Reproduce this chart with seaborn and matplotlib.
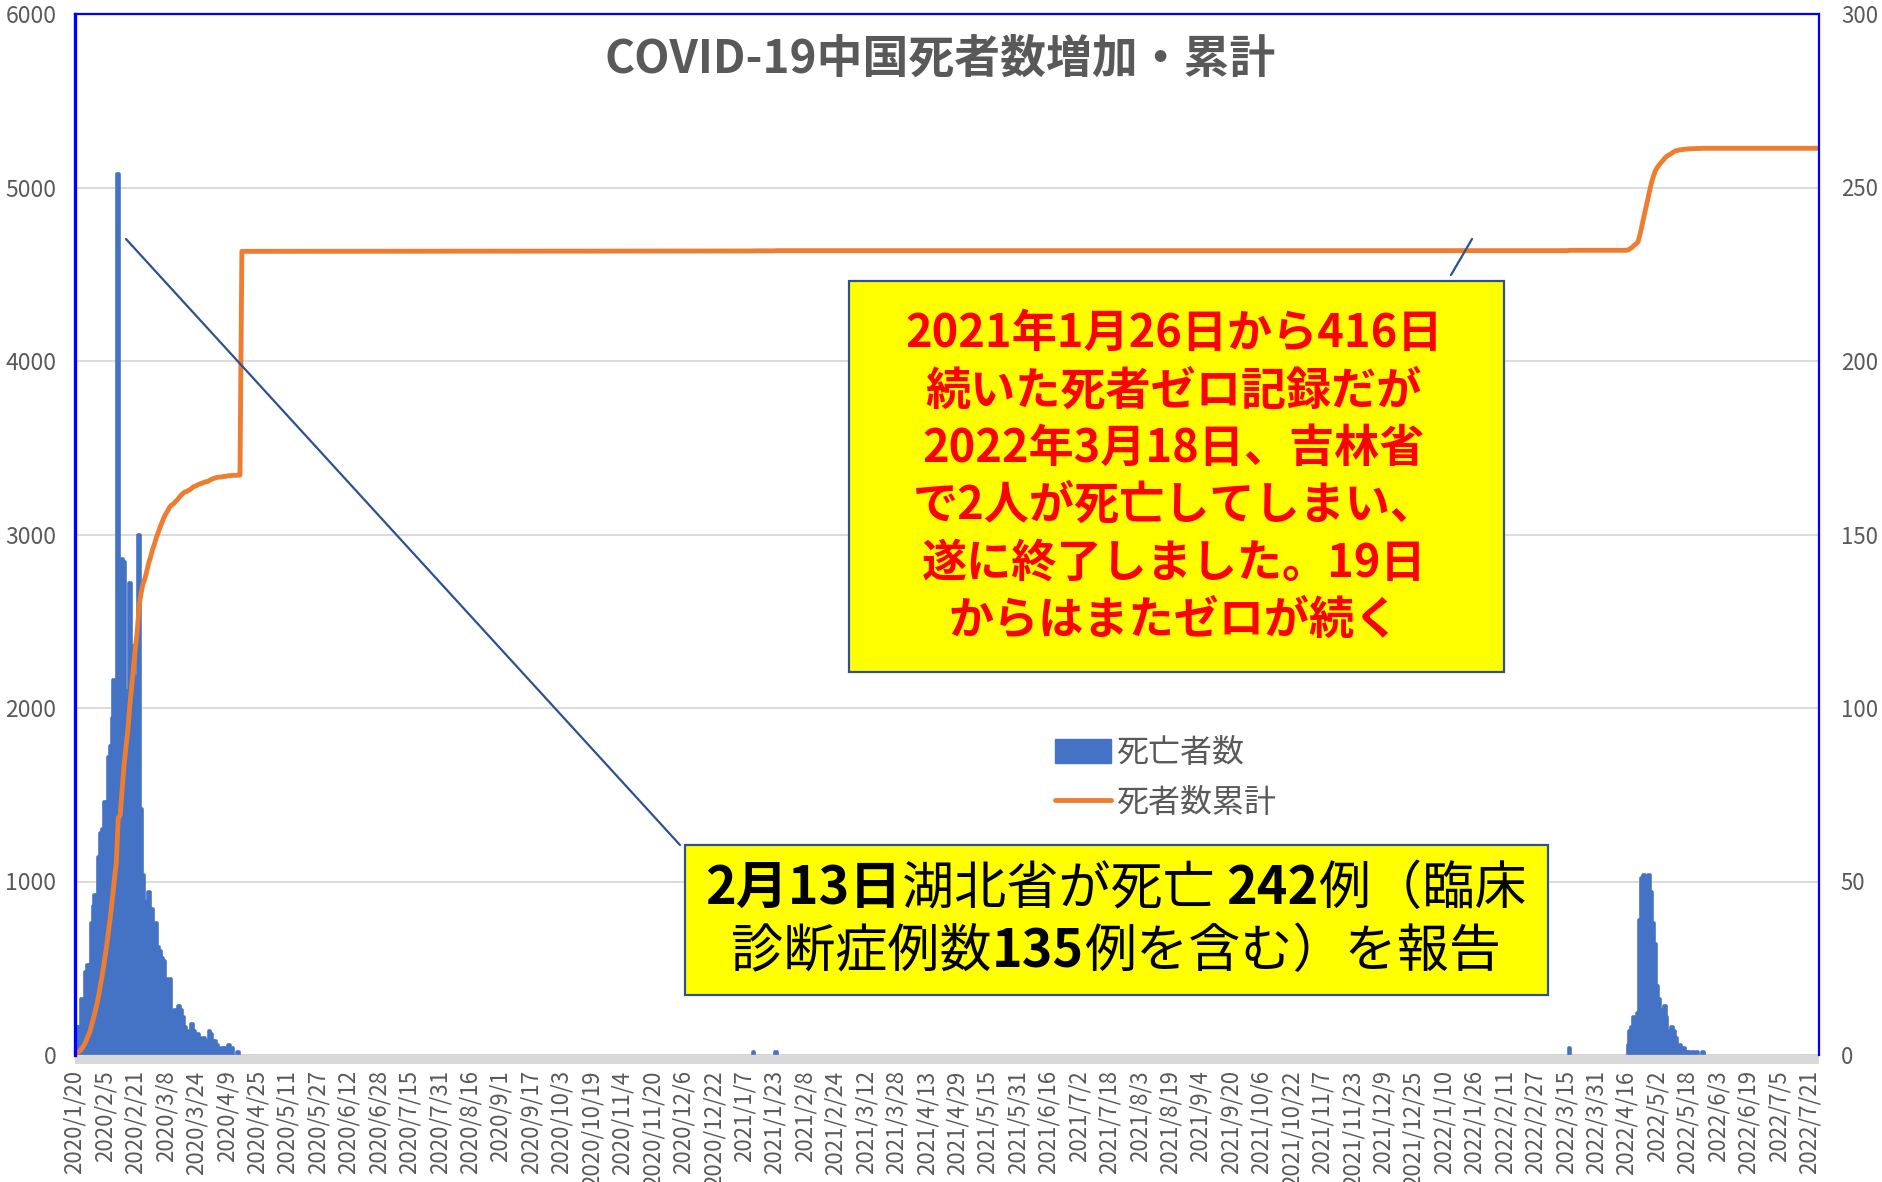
import numpy as np
import pandas as pd
import matplotlib
matplotlib.use("Agg")
import matplotlib.pyplot as plt
import seaborn as sns
from matplotlib.patches import Rectangle, Patch
from matplotlib.lines import Line2D
from matplotlib.offsetbox import TextArea, HPacker, AnchoredOffsetbox

# ---- data ----
first_date = "2020-01-20"
last_date = "2022-07-26"
# the source sheet skips one day in early July 2020 (6/28 -> 7/15 is 16 rows)
missing_dates = ["2020-07-01"]

# first wave, daily deaths 2020/1/20 .. 2020/4/16
wave1_start = "2020-01-20"
wave1_deaths = [3, 3, 8, 8, 16, 15, 24, 26, 26, 38,
                43, 46, 45, 57, 64, 65, 73, 73, 86, 89,
                97, 108, 97, 254, 121, 143, 142, 105, 98, 136,
                114, 118, 109, 97, 150, 71, 52, 29, 44, 47,
                35, 42, 31, 38, 31, 30, 28, 27, 22, 17,
                22, 11, 7, 13, 10, 14, 13, 11, 8, 3,
                7, 6, 9, 7, 4, 6, 5, 3, 5, 4,
                1, 7, 6, 4, 4, 3, 2, 0, 2, 2,
                1, 3, 0, 2, 0, 0, 1, 0]
# cumulative deaths 2020/1/20 .. 2020/4/17 (4/17: Wuhan revision)
wave1_cumulative = [6, 9, 17, 25, 41, 56, 80, 106, 132, 170, 213, 259,
                    304, 361, 425, 490, 563, 636, 722, 811, 908, 1016,
                    1113, 1367, 1380, 1523, 1665, 1770, 1868, 2004, 2118, 2236,
                    2345, 2442, 2592, 2663, 2715, 2744, 2788, 2835, 2870,
                    2912, 2943, 2981, 3012, 3042, 3070, 3097, 3119, 3136, 3158,
                    3169, 3176, 3189, 3199, 3213, 3226, 3237, 3245, 3248, 3255,
                    3261, 3270, 3277, 3281, 3287, 3292, 3295, 3300, 3304, 3305, 3312,
                    3318, 3322, 3326, 3329, 3331, 3331, 3333, 3335, 3336, 3339,
                    3339, 3341, 3341, 3341, 3342, 3342, 4632]

# isolated deaths between the waves
single_dates = ["2021-01-12", "2021-01-24", "2022-03-17"]
single_deaths = [1, 1, 2]
flat_dates = ["2021-01-11", "2021-01-12", "2021-01-23", "2021-01-24",
              "2022-03-16", "2022-03-17"]
flat_cumulative = [4634, 4635, 4635, 4636, 4636, 4638]

# second wave (Shanghai), daily deaths from 2022/4/17
wave2_start = "2022-04-17"
wave2_deaths = [3, 7, 8, 11, 8, 12, 39, 51, 52, 48,
                47, 52, 47, 38, 32, 20, 16, 13, 12, 14,
                11, 7, 6, 8, 7, 5, 2, 3, 1, 2,
                1, 1, 1, 0, 1, 0, 1, 0, 0, 1]
# cumulative from 2022/4/16
wave2_cum_start = "2022-04-16"
wave2_cumulative = [4638, 4641, 4648, 4656, 4667, 4675, 4687, 4726, 4777, 4829,
                    4877, 4924, 4976, 5023, 5061, 5093, 5113, 5129, 5142, 5154,
                    5168, 5179, 5186, 5192, 5200, 5207, 5212, 5214, 5217, 5218,
                    5220, 5221, 5222, 5223, 5223, 5224, 5224, 5225, 5225, 5225,
                    5226]
end_cumulative = 5226

title = "COVID-19中国死者数増加・累計"
bar_label = "死亡者数"
line_label = "死者数累計"

BAR_COLOR = "#4472C4"
LINE_COLOR = "#ED7D31"
GRAY = "#595959"
BORDER = "#2F528F"

FIG_W, FIG_H = 1883, 1182

# ---- build tables on the sheet's row positions ----
days = pd.date_range(first_date, last_date).difference(pd.to_datetime(missing_dates))
pos = pd.Series(np.arange(len(days)), index=days)

bars = pd.concat([
    pd.DataFrame({"date": pd.date_range(wave1_start, periods=len(wave1_deaths)),
                  "deaths": wave1_deaths}),
    pd.DataFrame({"date": pd.to_datetime(single_dates), "deaths": single_deaths}),
    pd.DataFrame({"date": pd.date_range(wave2_start, periods=len(wave2_deaths)),
                  "deaths": wave2_deaths}),
])
bars = bars[bars["deaths"] > 0].copy()
bars["x"] = pos.loc[bars["date"]].values

cum = pd.concat([
    pd.DataFrame({"date": pd.date_range(wave1_start, periods=len(wave1_cumulative)),
                  "total": wave1_cumulative}),
    pd.DataFrame({"date": pd.to_datetime(flat_dates), "total": flat_cumulative}),
    pd.DataFrame({"date": pd.date_range(wave2_cum_start, periods=len(wave2_cumulative)),
                  "total": wave2_cumulative}),
    pd.DataFrame({"date": [pd.Timestamp(last_date)], "total": [end_cumulative]}),
])
cum["x"] = pos.loc[cum["date"]].values

# ---- figure ----
sns.set_style("white")
plt.rcParams["font.family"] = ["Noto Sans CJK JP", "DejaVu Sans"]


def fx(x):
    return x / FIG_W


def fy(y):
    return 1 - y / FIG_H


fig = plt.figure(figsize=(FIG_W / 100, FIG_H / 100), dpi=100)
ax = fig.add_axes([fx(74.5), fy(1055), fx(1818.7) - fx(74.5), fy(14) - fy(1055)])
ax2 = ax.twinx()

sns.barplot(data=bars, x="x", y="deaths", native_scale=True, width=1.0,
            color=BAR_COLOR, saturation=1, errorbar=None,
            edgecolor=BAR_COLOR, linewidth=2.6, ax=ax)
for p in ax.patches:
    p.set_joinstyle("round")

sns.lineplot(data=cum, x="x", y="total", color=LINE_COLOR, linewidth=3.5,
             errorbar=None, ax=ax2)
for ln in ax2.lines:
    ln.set_solid_joinstyle("round")
    ln.set_solid_capstyle("round")

last = len(days) - 1
ax.set_xlim(0, last)
ax.set_ylim(0, 300)
ax2.set_ylim(0, 6000)

# y axes: bars on the right scale, cumulative on the left scale
ax.yaxis.tick_right()
ax.set_yticks(np.arange(0, 301, 50))
ax2.yaxis.tick_left()
ax2.set_yticks(np.arange(0, 6001, 1000))
ax.tick_params(axis="y", length=0, pad=16, labelsize=16, labelcolor=GRAY)
ax2.tick_params(axis="y", length=0, pad=13, labelsize=16.5, labelcolor=GRAY)
ax.set_ylabel("")
ax2.set_ylabel("")
ax.set_xlabel("")
ax2.set_xlabel("")

ax.grid(axis="y", color="#D9D9D9", linewidth=1.3)
ax.grid(axis="x", visible=False)
ax.set_axisbelow(True)

tick_pos = np.arange(0, last + 1, 16)
tick_lab = [f"{d.year}/{d.month}/{d.day}" for d in days[tick_pos]]
ax.set_xticks(tick_pos)
ax.set_xticklabels(tick_lab, rotation=90, va="top", ha="center")
ax.tick_params(axis="x", length=0, pad=11, labelsize=16, labelcolor=GRAY)

for s in ax.spines.values():
    s.set_visible(False)
ax2.spines["bottom"].set_visible(False)
ax2.spines["left"].set_color("#0000FF")
ax2.spines["left"].set_linewidth(2.4)
ax2.spines["top"].set_color("#0000FF")
ax2.spines["top"].set_linewidth(1.6)
ax2.spines["right"].set_color("#0000FF")
ax2.spines["right"].set_linewidth(1.6)

ax.axhline(0, color="#B4B4F0", linewidth=1, zorder=1)
band_h = 9 / (1055 - 14)
ax.add_patch(Rectangle((0, -band_h), 1, band_h, transform=ax.transAxes,
                       facecolor="#D9D9D9", edgecolor="none", clip_on=False))

# title
fig.text(fx(940), fy(60), title, ha="center", va="center", fontsize=33,
         fontweight="bold", color=GRAY)

# legend
handles = [Patch(facecolor=BAR_COLOR, edgecolor=BAR_COLOR),
           Line2D([], [], color=LINE_COLOR, linewidth=3.5)]
fig.legend(handles, [bar_label, line_label], loc="upper left",
           bbox_to_anchor=(fx(1055), fy(737)), frameon=False, fontsize=23,
           handlelength=1.75, handleheight=0.75, handletextpad=0.15,
           labelspacing=0.55, borderpad=0, borderaxespad=0, labelcolor=GRAY)

# connectors
fig.add_artist(Line2D([fx(680), fx(126)], [fy(845), fy(239)],
                      transform=fig.transFigure, color=BORDER, linewidth=1.6, zorder=4))
fig.add_artist(Line2D([fx(1451), fx(1472)], [fy(275), fy(239)],
                      transform=fig.transFigure, color=BORDER, linewidth=1.6, zorder=4))

# red note box
fig.add_artist(Rectangle((fx(849), fy(672)), fx(1504) - fx(849), fy(281) - fy(672),
                         transform=fig.transFigure, facecolor="#FFFF00",
                         edgecolor=BORDER, linewidth=1.6, zorder=5))
note_lines = ["2021年1月26日から416日", "続いた死者ゼロ記録だが",
              "2022年3月18日、吉林省", "で2人が死亡してしまい、",
              "遂に終了しました。19日", "からはまたゼロが続く"]
for i, t in enumerate(note_lines):
    fig.text(fx(1174), fy(334 + i * 57.4), t, ha="center", va="center",
             fontsize=32.5, fontweight="bold", color="#FF0000", zorder=6)

# black note box with mixed weights
fig.add_artist(Rectangle((fx(685), fy(995)), fx(1548) - fx(685), fy(845) - fy(995),
                         transform=fig.transFigure, facecolor="#FFFF00",
                         edgecolor=BORDER, linewidth=1.6, zorder=5))
runs = [
    [("2月13日", "bold"), ("湖北省が死亡 ", "normal"), ("242", "bold"), ("例（臨床", "normal")],
    [("診断症例数", "normal"), ("135", "bold"), ("例を含む）を報告", "normal")],
]
for i, line in enumerate(runs):
    parts = [TextArea(t, textprops=dict(fontsize=37.5, fontweight=w, color="black"))
             for t, w in line]
    box = HPacker(children=parts, align="baseline", pad=0, sep=0)
    ab = AnchoredOffsetbox(loc="center", child=box, pad=0, borderpad=0, frameon=False,
                           bbox_to_anchor=(fx(1116), fy(889 + i * 63.5)),
                           bbox_transform=fig.transFigure)
    ab.set_zorder(6)
    fig.add_artist(ab)

fig.savefig("out.png", dpi=100)
